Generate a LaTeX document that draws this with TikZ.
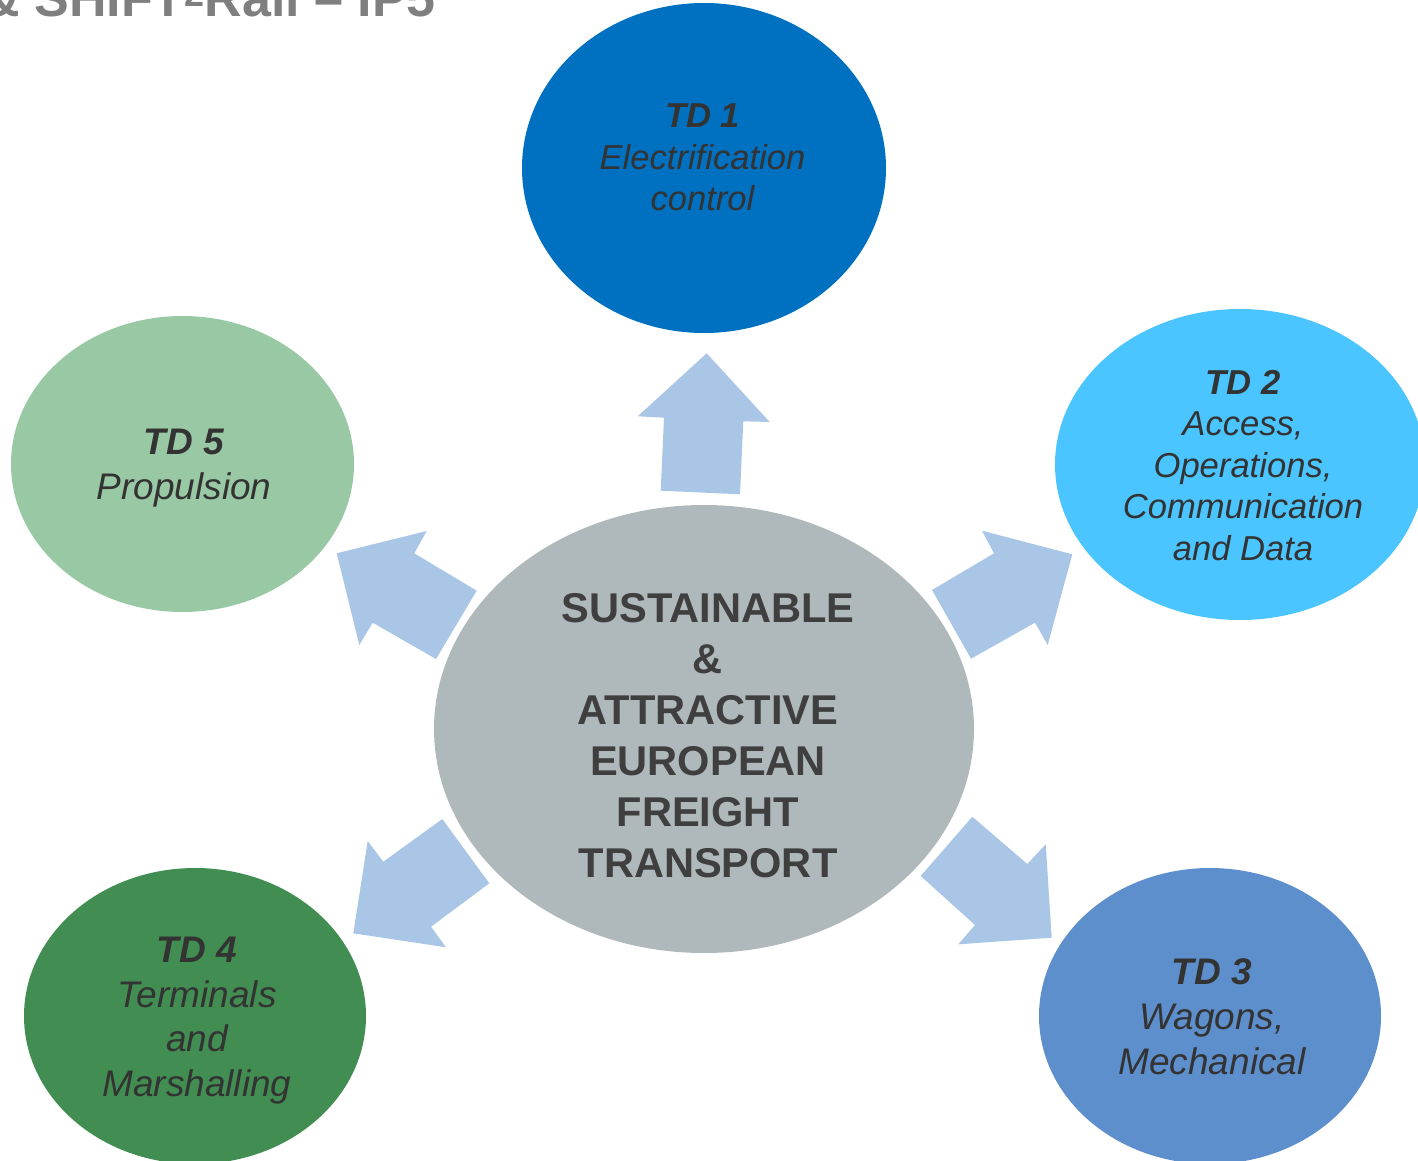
\documentclass[tikz,border=0pt]{standalone}
\usepackage{fontspec}
\setmainfont{Liberation Sans}
\usetikzlibrary{shapes.geometric}
\definecolor{centergray}{HTML}{AFB8BB}
\definecolor{tdone}{HTML}{0070C0}
\definecolor{tdtwo}{HTML}{4BC5FF}
\definecolor{tdthree}{HTML}{5D8FCC}
\definecolor{tdfour}{HTML}{418D52}
\definecolor{tdfive}{HTML}{99C9A4}
\definecolor{arrowblue}{HTML}{A9C6E6}
\definecolor{tdtext}{HTML}{333333}
\definecolor{centertext}{HTML}{3F3F3F}
\definecolor{titlegray}{HTML}{7F7F7F}
\begin{document}
\begin{tikzpicture}[x=0.5pt,y=-0.5pt,
  blob/.style={ellipse, inner sep=0pt, outer sep=0pt, draw=none},
  tdsmall/.style={text=tdtext, align=center, inner sep=0pt,
    font=\itshape\fontsize{17.3}{20.75}\selectfont},
  tdlarge/.style={text=tdtext, align=center, inner sep=0pt,
    font=\itshape\fontsize{18.5}{22.4}\selectfont},
  centerlabel/.style={text=centertext, align=center, inner sep=0pt,
    font=\bfseries\fontsize{20.8}{25.5}\selectfont},
  blockarrow/.style={fill=arrowblue, draw=none}]
\useasboundingbox (0,0) rectangle (1418,1161);
\clip (0,0) rectangle (1418,1161);

% title (cut off by the top edge)
\node[anchor=base west, inner sep=0pt, text=titlegray,
  font=\bfseries\fontsize{26}{30}\selectfont] (title) at (-18,17)
  {\& SHIFT\raisebox{5pt}{\fontsize{18}{20}\selectfont 2}Rail – IP5};

% ellipses
\node[blob, fill=centergray, minimum width=270pt, minimum height=224pt] (center) at (704,729) {};
\node[blob, fill=tdone, minimum width=182pt, minimum height=165pt] (td1) at (704,168) {};
\node[blob, fill=tdtwo, minimum width=185pt, minimum height=155.5pt] (td2) at (1240,464.5) {};
\node[blob, fill=tdthree, minimum width=171pt, minimum height=148pt] (td3) at (1210,1016) {};
\node[blob, fill=tdfour, minimum width=171pt, minimum height=148pt] (td4) at (195,1016) {};
\node[blob, fill=tdfive, minimum width=171.5pt, minimum height=148pt] (td5) at (182.5,464) {};

% texts
\node[centerlabel] (centertxt) at (708,735.3)
  {SUSTAINABLE\\\&\\ATTRACTIVE\\EUROPEAN\\FREIGHT\\TRANSPORT};
\node[tdsmall] (td1txt) at (702.5,157.5) {{\bfseries TD 1}\\Electrification\\control};
\node[tdsmall] (td2txt) at (1243,465.5) {{\bfseries TD 2}\\Access,\\Operations,\\Communication\\and Data};
\node[tdlarge] (td3txt) at (1212,1016.7) {{\bfseries TD 3}\\Wagons,\\Mechanical};
\node[tdlarge] (td4txt) at (197,1020.6) {{\bfseries TD 4}\\Terminals\\and\\Marshalling};
\node[tdlarge] (td5txt) at (184,468) {{\bfseries TD 5}\\Propulsion};

% block arrows from the centre towards each TD
\fill[blockarrow] (706.7,353.3) -- (769.7,422) -- (743.3,421.3) -- (740,494.3)
  -- (660.7,490.7) -- (664,417.7) -- (637.7,416.3) -- cycle;
\fill[blockarrow] (1072.3,554.3) -- (1047.7,645) -- (1035,622.7) -- (971,658.7)
  -- (932,590) -- (994,553.3) -- (982,530.7) -- cycle;
\fill[blockarrow] (1051.7,937.7) -- (958.3,944.3) -- (975,925) -- (920.7,876)
  -- (972.3,816.7) -- (1027.3,864) -- (1045.7,844.3) -- cycle;
\fill[blockarrow] (353.3,933.3) -- (367.7,841) -- (383.3,861.7) -- (442.3,819)
  -- (489.3,883.3) -- (431,926.7) -- (446,947.3) -- cycle;
\fill[blockarrow] (336.7,553.3) -- (426.7,531) -- (414.3,553.3) -- (476.7,590.7)
  -- (436,659) -- (372.7,622.7) -- (359.3,645) -- cycle;
\end{tikzpicture}
\end{document}
